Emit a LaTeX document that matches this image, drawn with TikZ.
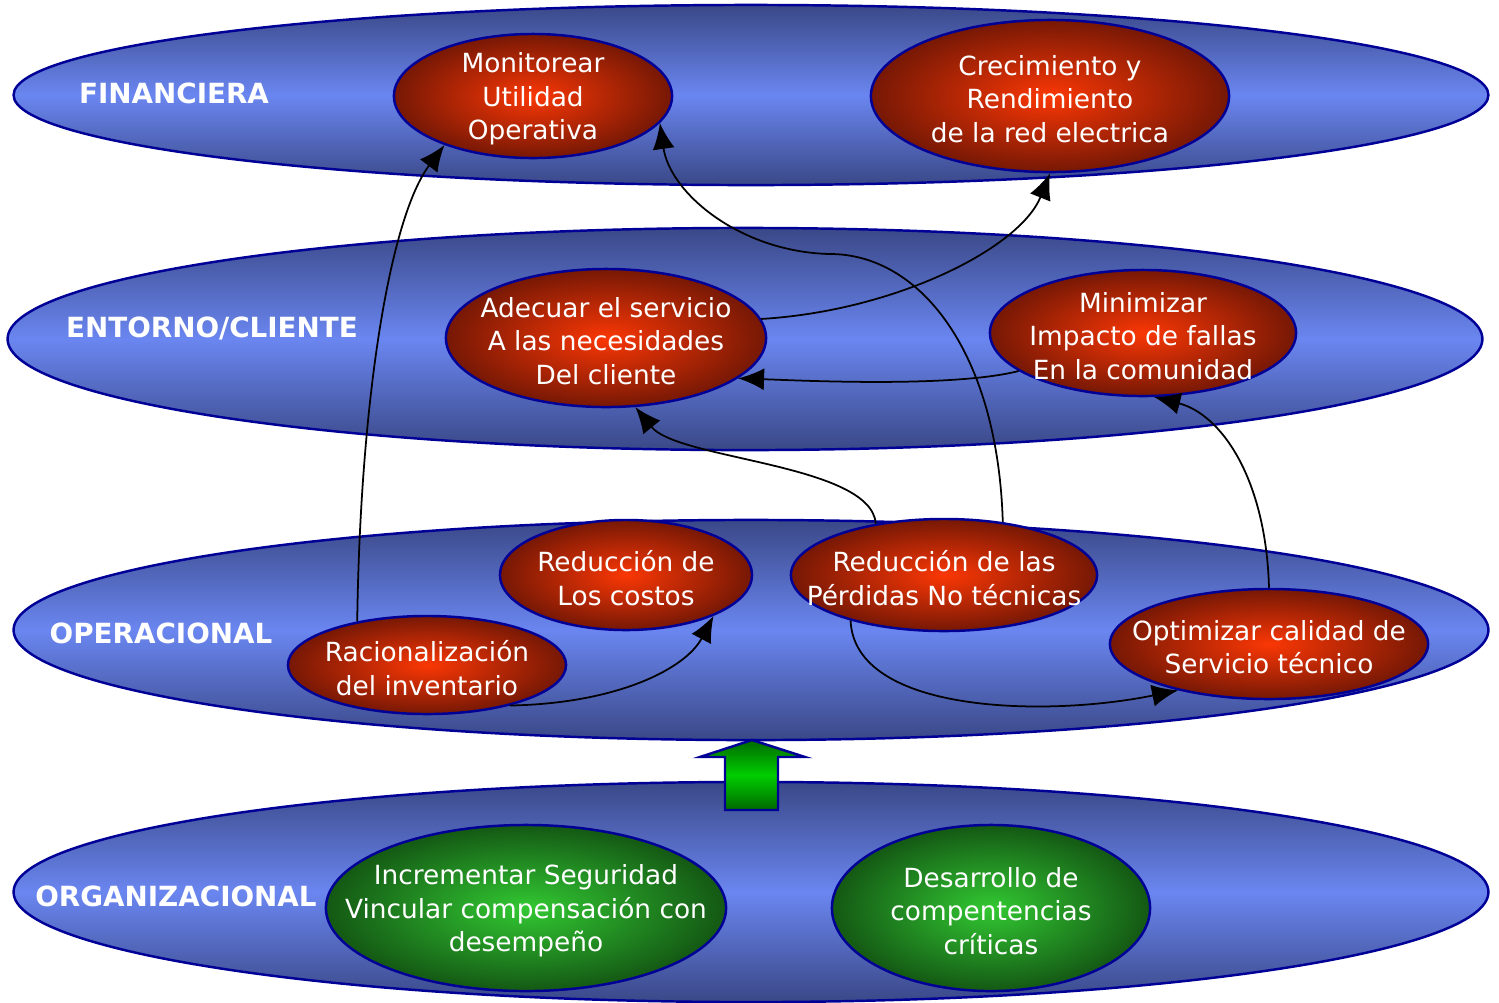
\documentclass[tikz,border=0pt]{standalone}
\usepackage{fontspec}
\setmainfont{DejaVu Sans}
\usetikzlibrary{shapes.geometric}
\usetikzlibrary{arrows.meta}
\definecolor{laymid}{RGB}{106,134,240}
\definecolor{layedge}{RGB}{58,72,135}
\definecolor{rim}{RGB}{0,0,150}
\definecolor{redin}{RGB}{250,55,5}
\definecolor{redout}{RGB}{118,24,5}
\definecolor{grnin}{RGB}{50,200,50}
\definecolor{grnout}{RGB}{20,88,20}
\definecolor{arrin}{RGB}{0,205,0}
\definecolor{arrout}{RGB}{0,105,0}
\begin{document}
\begin{tikzpicture}[x=0.01cm, y=-0.01cm,
    LAYER/.style={ellipse, draw=rim, line width=0.7pt, top color=layedge, bottom color=layedge, middle color=laymid, inner sep=0pt},
    GOAL/.style={ellipse, draw=rim, line width=0.7pt, inner color=redin, outer color=redout, inner sep=0pt},
    GOALG/.style={ellipse, draw=rim, line width=0.7pt, inner color=grnin, outer color=grnout, inner sep=0pt},
    LBL/.style={text=white, font=\bfseries\fontsize{7.9}{9}\selectfont},
    TXT/.style={text=white, align=center, yshift=-0.03cm, font=\fontsize{7.5}{9.5}\selectfont},
    LNK/.style={-{Latex[length=2.6mm,width=2.2mm]}, line width=0.5pt, black},
    ]
        \useasboundingbox (0,0) rectangle (1499,1002);
        % perspectivas
        \node[LAYER, minimum width=14.74cm, minimum height=1.80cm] (fin) at (751,95) {};
        \node[LAYER, minimum width=14.74cm, minimum height=2.22cm] (ent) at (745,339) {};
        \node[LAYER, minimum width=14.74cm, minimum height=2.20cm] (ope) at (751,630) {};
        \node[LAYER, minimum width=14.74cm, minimum height=2.20cm] (org) at (751,892) {};
        \node[LBL] (fin-l) at (174,93) {FINANCIERA};
        \node[LBL] (ent-l) at (212,328) {ENTORNO/CLIENTE};
        \node[LBL] (ope-l) at (161,633) {OPERACIONAL};
        \node[LBL] (org-l) at (176,896) {ORGANIZACIONAL};

        % flecha verde
        \shadedraw[draw=rim, line width=0.7pt, top color=arrout, bottom color=arrout, middle color=arrin]
            (752,740) -- (805,757) -- (778,757) -- (778,810) -- (725,810) -- (725,757) -- (700,757) -- cycle;

        % objetivos
        \node[GOAL, minimum width=2.78cm, minimum height=1.24cm] (mon) at (533,96) {};
        \node[TXT] (mon-t) at (mon) {Monitorear\\Utilidad\\Operativa};
        \node[GOAL, minimum width=3.58cm, minimum height=1.52cm] (cre) at (1050,96) {};
        \node[TXT] (cre-t) at (cre) {Crecimiento y\\Rendimiento\\de la red electrica};
        \node[GOAL, minimum width=3.20cm, minimum height=1.38cm] (ade) at (606,338) {};
        \node[TXT] (ade-t) at (ade) {Adecuar el servicio\\A las necesidades\\Del cliente};
        \node[GOAL, minimum width=3.06cm, minimum height=1.26cm] (min) at (1143,333) {};
        \node[TXT] (min-t) at (min) {Minimizar\\Impacto de fallas\\En la comunidad};
        \node[GOAL, minimum width=2.52cm, minimum height=1.10cm] (cos) at (626,575) {};
        \node[TXT] (cos-t) at (cos) {Reducción de\\Los costos};
        \node[GOAL, minimum width=3.06cm, minimum height=1.12cm] (per) at (944,575) {};
        \node[TXT] (per-t) at (per) {Reducción de las\\Pérdidas No técnicas};
        \node[GOAL, minimum width=2.78cm, minimum height=0.98cm] (rac) at (427,665) {};
        \node[TXT] (rac-t) at (rac) {Racionalización\\del inventario};
        \node[GOAL, minimum width=3.18cm, minimum height=1.10cm] (opt) at (1269,644) {};
        \node[TXT] (opt-t) at (opt) {Optimizar calidad de\\Servicio técnico};
        \node[GOALG, minimum width=4.00cm, minimum height=1.66cm] (inc) at (526,908) {};
        \node[TXT] (inc-t) at (inc) {Incrementar Seguridad\\Vincular compensación con\\desempeño};
        \node[GOALG, minimum width=3.18cm, minimum height=1.66cm] (des) at (991,908) {};
        \node[TXT] (des-t) at (des) {Desarrollo de\\compentencias\\críticas};

        % relaciones causa-efecto
        \coordinate (bend) at (830,254);
        \draw[LNK] (rac.148) .. controls +(3,-220) and +(-55,73) .. (mon.209);
        \draw[LNK] (per.42) .. controls +(-5,-170) and +(90,0) .. (bend) .. controls +(-90,-2) and +(10,70) .. (mon.348);
        \draw[LNK] (ade.7) .. controls +(134,-8) and +(-30,75) .. (cre.south);
        \draw[LNK] (min.197) .. controls +(-67,17) and +(60,2) .. (ade.343);
        \draw[LNK] (per.143) .. controls +(-5,-60) and +(43,53) .. (ade.293);
        \draw[LNK] (opt.north) .. controls +(-3,-109) and +(67,17) .. (min.280);
        \draw[LNK] (rac.334) .. controls +(107,-2) and +(-28,53) .. (cos.335);
        \draw[LNK] (per.206) .. controls +(4,93) and +(-132,27) .. (opt.207);
    \end{tikzpicture}
\end{document}
